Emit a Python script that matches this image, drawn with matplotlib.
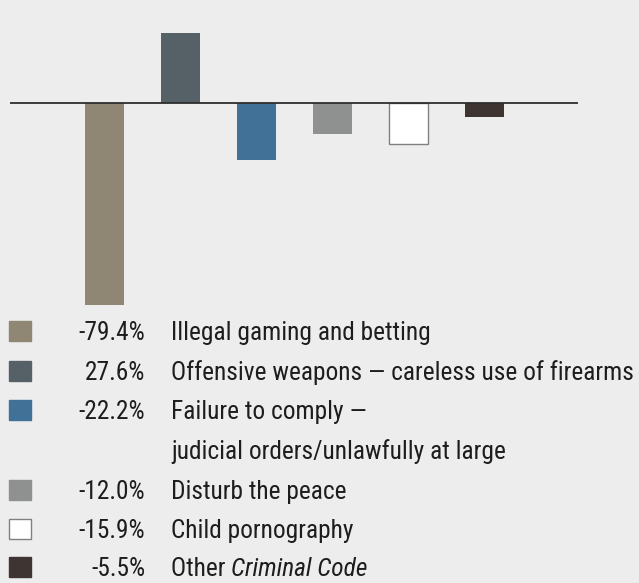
import matplotlib
matplotlib.use("Agg")
import matplotlib.pyplot as plt
from matplotlib.patches import Rectangle
from matplotlib import font_manager as fm

# offence categories and their percent change
values = [-79.4, 27.6, -22.2, -12.0, -15.9, -5.5]
value_labels = ["-79.4%", "27.6%", "-22.2%", "-12.0%", "-15.9%", "-5.5%"]
names = [
    ["Illegal gaming and betting"],
    ["Offensive weapons \u2014 careless use of firearms"],
    ["Failure to comply \u2014", "judicial orders/unlawfully at large"],
    ["Disturb the peace"],
    ["Child pornography"],
    ["Other ", "Criminal Code"],
]
colors = ["#8f8674", "#566067", "#417196", "#8f9190", "#ffffff", "#3e3432"]
edges = ["none", "none", "none", "none", "#7f8080", "none"]

bg = "#ededed"
txt = "#1e1c1c"


def pick_face(style):
    faces = fm.fontManager.ttflist
    for fam in ("Liberation Sans Narrow", "Roboto Condensed"):
        for f in faces:
            if f.name == fam and f.style == style and f.weight in (400, "normal"):
                return fm.FontProperties(fname=f.fname)
    for f in faces:
        if (f.name == "DejaVu Sans" and f.stretch == "condensed"
                and f.style == style and f.weight in (400, "normal")):
            return fm.FontProperties(fname=f.fname)
    return None


regular = pick_face("normal") or fm.FontProperties(family="DejaVu Sans")
italic = pick_face("italic") or pick_face("oblique") or fm.FontProperties(family="DejaVu Sans", style="italic")

W, H = 639, 583
fig = plt.figure(figsize=(W / 100, H / 100), dpi=100, facecolor=bg)

# bar panel, placed in pixel terms
left, right, top, bottom = 10, 578, 21.4, 307.0
ax = fig.add_axes([left / W, 1 - bottom / H, (right - left) / W, (bottom - top) / H])
ax.set_facecolor(bg)
x = list(range(len(values)))
ax.bar(x, values, width=0.51, color=colors, edgecolor=edges, linewidth=1.0, zorder=2)
ax.axhline(0, color="#2e2e2e", linewidth=1.3, zorder=3)
ax.set_xlim(-1.243, 6.23)
ax.set_ylim(-80, 32)
ax.axis("off")

# legend panel in pixel coordinates
lg = fig.add_axes([0, 0, 1, 1], zorder=-1)
lg.set_xlim(0, W)
lg.set_ylim(H, 0)
lg.axis("off")
lg.patch.set_alpha(0)

# size the text so the longest line ends near the right edge
fs = 18
regular.set_size(fs)
probe = lg.text(171, 372, names[1][0], fontproperties=regular)
fig.canvas.draw()
w = probe.get_window_extent().width
probe.remove()
fs = min(20, fs * 464 / w)
regular.set_size(fs)
italic.set_size(fs)

rows = [331, 371, 410, 490, 529, 567]
line_gap = 40
base = 9  # baseline offset below row centre
for i, y in enumerate(rows):
    ec = edges[i] if edges[i] != "none" else colors[i]
    lg.add_patch(Rectangle((9, y - 10), 22, 20, facecolor=colors[i], edgecolor=ec, linewidth=1.0))
    lg.text(145, y + base, value_labels[i], ha="right", va="baseline", fontproperties=regular, color=txt)
    if i == 5:
        t = lg.text(171, y + base, names[i][0], ha="left", va="baseline", fontproperties=regular, color=txt)
        fig.canvas.draw()
        x_end = lg.transData.inverted().transform(t.get_window_extent())[1][0]
        lg.text(x_end, y + base, names[i][1], ha="left", va="baseline", fontproperties=italic, color=txt)
    else:
        for j, line in enumerate(names[i]):
            lg.text(171, y + base + j * line_gap, line, ha="left", va="baseline",
                    fontproperties=regular, color=txt)

fig.savefig("out.png", dpi=100, facecolor=bg)
